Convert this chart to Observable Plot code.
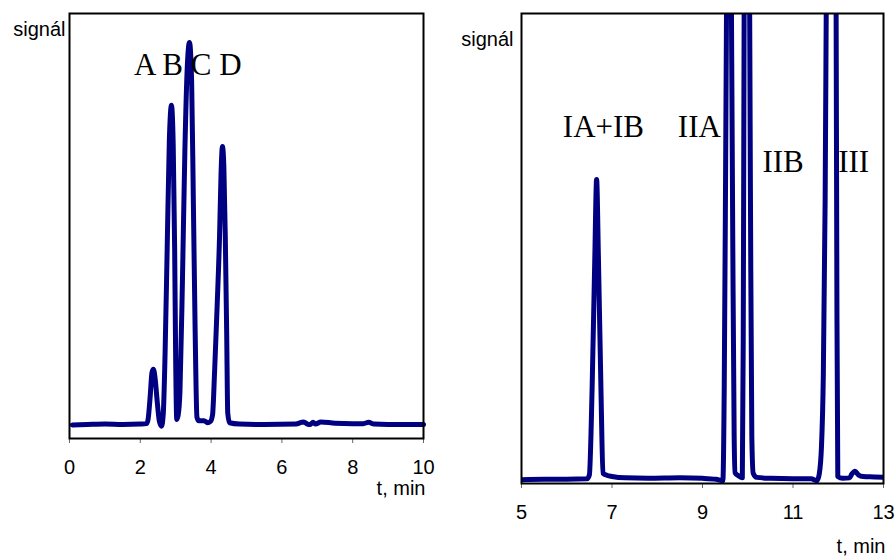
<!DOCTYPE html>
<html><head><meta charset="utf-8">
<script src="https://cdn.jsdelivr.net/npm/d3@7"></script>
<script src="https://cdn.jsdelivr.net/npm/@observablehq/plot@0.6"></script>
<style>
body{margin:0;background:#fff;}
#wrap{position:relative;width:896px;height:557px;overflow:hidden;background:#fff;}
#wrap svg{position:absolute;top:0;overflow:visible;}
</style></head><body><div id="wrap"></div>
<script>
// Left chromatogram (t in min, signal in arbitrary units 0-100)
const leftT = [0.08,0.5,1.0,1.5,2.0,2.18,2.22,2.28,2.33,2.37,2.42,2.48,2.54,2.6,2.65,2.7,2.76,2.82,2.88,2.93,2.97,3.0,3.03,3.07,3.12,3.19,3.26,3.33,3.39,3.45,3.5,3.55,3.6,3.65,3.8,3.9,3.98,4.04,4.1,4.17,4.24,4.28,4.32,4.36,4.4,4.44,4.47,4.52,4.8,5.5,6.4,6.55,6.62,6.72,6.8,6.88,6.95,7.1,7.5,8.0,8.3,8.45,8.6,9.0,10.0];
const leftV = [3.2,3.3,3.4,3.3,3.4,3.5,4.5,10,15.5,16.3,14,8.5,4,2.9,6,20,45,70,78.4,69,45,18,4.5,5.5,11,37,68,88,93.2,84,55,25,5,4.2,4.2,3.7,4.0,5.5,16,31,48,62,68.7,64,48,25,6,3.7,3.4,3.3,3.4,3.8,3.9,3.4,3.3,3.8,3.4,3.9,3.6,3.5,3.5,3.8,3.4,3.3,3.3];
// Right chromatogram
const rightT = [5.0,5.5,6.0,6.45,6.5,6.56,6.62,6.66,6.7,6.76,6.8,6.9,7.0,7.3,7.8,8.5,9.0,9.3,9.45,9.48,9.51,9.53,9.585,9.64,9.67,9.7,9.72,9.8,9.88,9.9,9.92,9.97,10.02,10.06,10.09,10.12,10.2,10.5,11.0,11.4,11.53,11.58,11.63,11.67,11.71,11.74,11.85,11.95,11.97,11.99,12.1,12.25,12.3,12.37,12.45,12.55,12.8,13.0];
const rightV = [0.8,0.9,0.9,1.0,1.8,20,48,64.7,48,18,2.2,1.7,1.5,1.2,1.1,1.2,1.1,0.9,0.6,20,65,100,200,100,50,10,2.3,1.6,1.2,30,100,190,150,60,10,2.2,1.3,1.1,1.0,1.0,0.6,2,8,23,60,110,250,110,40,1.5,1.1,1.2,2.0,2.6,1.8,1.5,1.4,1.3];
// Tick values
const leftTicks = [0,2,4,6,8,10];
const rightTicks = [5,7,9,11,13];
// Peak labels
const leftLabels = ["A B C D"];
const leftLabelT = [3.34];
const leftLabelV = [85.6];
const rightLabels = ["IA+IB","IIA","IIB","III"];
const rightLabelT = [6.81,8.93,10.78,12.34];
const rightLabelV = [73.8,73.8,66.2,66.2];
const yLabel = "signál";
const xLabel = "t, min";

const SANS = "'Liberation Sans', Arial, Helvetica, sans-serif";
const SERIF = "'Liberation Serif', 'Times New Roman', Times, serif";
const LINE = "#000080";

const leftData = leftT.map((t,i)=>({t, v:leftV[i]}));
const rightData = rightT.map((t,i)=>({t, v:rightV[i]}));
const leftLab = leftLabels.map((label,i)=>({label, t:leftLabelT[i], v:leftLabelV[i]}));
const rightLab = rightLabels.map((label,i)=>({label, t:rightLabelT[i], v:rightLabelV[i]}));

function panel({data, labels, domain, ticks, width, margins, yDy, yDx, xDy, clip}) {
  return Plot.plot({
    width, height: 557,
    marginLeft: margins[0], marginRight: margins[1], marginTop: margins[2], marginBottom: margins[3],
    style: {fontFamily: SANS, fontSize: "20px", color: "black", background: "transparent", overflow: "visible"},
    x: {domain, axis: null},
    y: {domain: [0, 100], axis: null},
    marks: [
      Plot.axisX({ticks, tickSize: 5, tickPadding: 16, stroke: "#666", strokeWidth: 1, fill: "black", fontSize: 20, label: null}),
      Plot.line(data, {x: "t", y: "v", stroke: LINE, strokeWidth: 5, curve: "monotone-x", strokeLinejoin: "round", strokeLinecap: "round", clip}),
      Plot.frame({stroke: "black", strokeWidth: 2}),
      Plot.text(labels, {x: "t", y: "v", text: "label", fontFamily: SERIF, fontSize: 31, textAnchor: "middle", lineAnchor: "bottom", fill: "black"}),
      Plot.text([yLabel], {frameAnchor: "top-left", dx: yDx, dy: yDy, textAnchor: "end", lineAnchor: "bottom", fontSize: 20, fontFamily: SANS, fill: "black"}),
      Plot.text([xLabel], {frameAnchor: "bottom-right", dx: 2, dy: xDy, textAnchor: "end", lineAnchor: "bottom", fontSize: 20, fontFamily: SANS, fill: "black"})
    ]
  });
}

const left = panel({data: leftData, labels: leftLab, domain: [0, 10], ticks: leftTicks, width: 450,
  margins: [69, 27, 13, 119], yDy: 22, yDx: -4, xDy: 56, clip: false});
const right = panel({data: rightData, labels: rightLab, domain: [5, 13], ticks: rightTicks, width: 446,
  margins: [71, 13, 13, 74], yDy: 32, yDx: -8, xDy: 69, clip: true});
left.style.left = "0px";
right.style.left = "450px";
const wrap = document.getElementById("wrap");
wrap.appendChild(left);
wrap.appendChild(right);
</script>
</body></html>
